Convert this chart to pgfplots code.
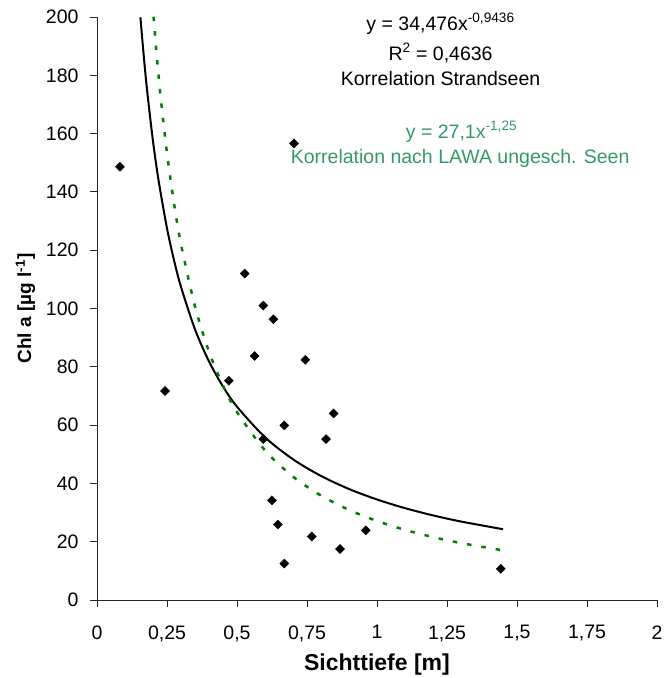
\documentclass[border=0pt]{standalone}
\usepackage{pgfplots}
\pgfplotsset{compat=1.18}
\usepackage{fontspec}
\setmainfont{Liberation Sans}
\definecolor{seagreen}{RGB}{51,153,102}
\definecolor{lgreen}{RGB}{0,128,0}
\begin{document}
\begin{tikzpicture}
\begin{axis}[
  name=ax,
  scale only axis,
  width=560pt, height=583pt,
  xmin=0, xmax=2, ymin=0, ymax=200,
  axis lines*=left,
  axis line style={black!85, line width=0.8pt},
  xtick={0,0.25,...,2},
  ytick={0,20,...,200},
  tick align=outside,
  major tick length=7pt,
  tick style={black!85, line width=0.8pt},
  /pgf/number format/use comma,
  /pgf/number format/assume math mode=true,
  ticklabel style={font=\fontsize{19.5}{22}\selectfont},
  xticklabel style={yshift=-15pt},
  yticklabel style={xshift=-8pt},
  xlabel={Sichttiefe [m]},
  ylabel={Chl a [µg l\textsuperscript{-1}]},
  xlabel style={font=\bfseries\fontsize{23}{26}\selectfont, yshift=-5pt},
  ylabel style={font=\bfseries\fontsize{19}{22}\selectfont, yshift=4pt},
  clip mode=individual,
]
\addplot[only marks, mark=square*, mark options={rotate=45}, mark size=3.2pt, black] coordinates {
(0.082,148.6) (0.243,71.7) (0.5275,112.0) (0.594,101.0) (0.630,96.3)
(0.563,83.7) (0.744,82.4) (0.471,75.2) (0.845,64.0) (0.669,59.9)
(0.594,55.2) (0.818,55.2) (0.625,34.2) (0.646,25.9) (0.767,21.8)
(0.868,17.5) (0.960,23.9) (0.669,12.5) (0.7036,156.6) (1.442,10.7)
};
\addplot[black, line width=2pt, smooth] coordinates {
(0.155,199.9) (0.16,194.3) (0.17,183.5) (0.18,173.9) (0.2,157.4) (0.22,143.9)
(0.25,127.5) (0.275,116.6) (0.3,107.4) (0.35,92.84) (0.4,81.85) (0.45,73.24)
(0.5,66.31) (0.6,55.83) (0.7,48.27) (0.8,42.56) (0.9,38.08) (1.0,34.48)
(1.1,31.51) (1.2,29.03) (1.3,26.92) (1.45,24.28)
};
\addplot[lgreen, line width=2.5pt, smooth, dash pattern=on 4.5pt off 10pt] coordinates {
(0.202,200.1) (0.21,190.6) (0.22,179.8) (0.23,170.1) (0.25,153.3) (0.275,136.1)
(0.3,122.1) (0.35,100.7) (0.4,85.20) (0.45,73.53) (0.5,64.45) (0.6,51.32)
(0.7,42.33) (0.8,35.82) (0.9,30.92) (1.0,27.1) (1.1,24.06) (1.2,21.58)
(1.3,19.52) (1.45,17.03)
};
\node[anchor=base, font=\fontsize{19.5}{22}\selectfont] at (axis cs:1.227,195.4) {y = 34,476x\textsuperscript{-0,9436}};
\node[anchor=base, font=\fontsize{19.5}{22}\selectfont] at (axis cs:1.227,185.1) {R\textsuperscript{2} = 0,4636};
\node[anchor=base, font=\fontsize{19.5}{22}\selectfont] at (axis cs:1.227,176.6) {Korrelation Strandseen};
\node[anchor=base, font=\fontsize{19.5}{22}\selectfont, text=seagreen] at (axis cs:1.302,158.4) {y = 27,1x\textsuperscript{-1,25}};
\node[anchor=base, font=\fontsize{19.5}{22}\selectfont, text=seagreen] at (axis cs:1.297,149.8) {Korrelation nach LAWA ungesch. Seen};
\end{axis}
\pgfresetboundingbox
\path ([xshift=-97pt,yshift=-78pt]ax.south west) rectangle ([xshift=7pt,yshift=17pt]ax.north east);
\end{tikzpicture}
\end{document}
